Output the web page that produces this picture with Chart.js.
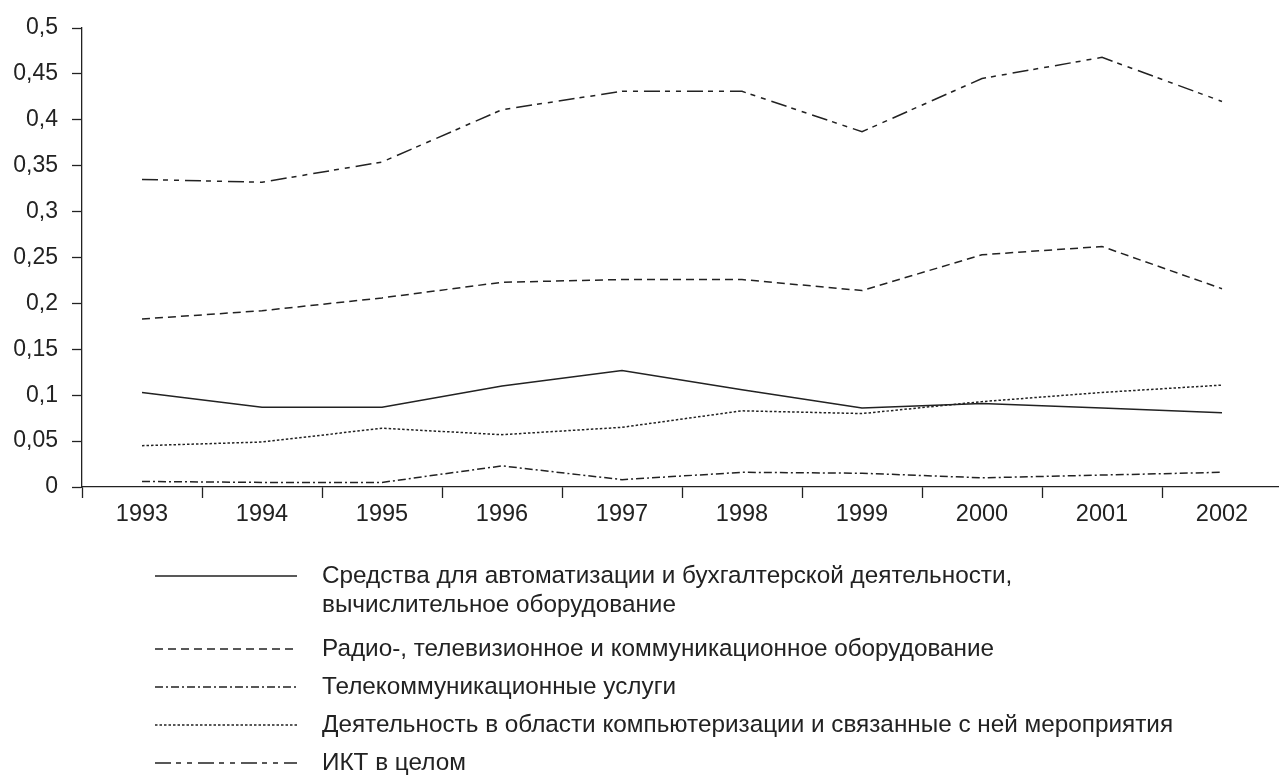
<!DOCTYPE html>
<html lang="ru">
<head>
<meta charset="utf-8">
<title>ИКТ 1993–2002</title>
<script src="https://cdn.jsdelivr.net/npm/chart.js@4.4.1/dist/chart.umd.min.js"></script>
<style>
    html, body { margin: 0; padding: 0; background: #ffffff; overflow: hidden; }
    #wrap { width: 1279px; height: 775px; position: relative; overflow: hidden; }
</style>
</head>
<body>
<div id="wrap"><canvas id="chart" width="1282" height="775"></canvas></div>
<script>
// Data
const years = ["1993", "1994", "1995", "1996", "1997", "1998", "1999", "2000", "2001", "2002"];

const automation = [0.103, 0.087, 0.087, 0.110, 0.127, 0.106, 0.086, 0.091, 0.086, 0.081];
const radioTv    = [0.183, 0.192, 0.206, 0.223, 0.226, 0.226, 0.214, 0.253, 0.262, 0.216];
const telecom    = [0.006, 0.005, 0.005, 0.023, 0.008, 0.016, 0.015, 0.010, 0.013, 0.016];
const computing  = [0.045, 0.049, 0.064, 0.057, 0.065, 0.083, 0.080, 0.093, 0.103, 0.111];
const ictTotal   = [0.335, 0.332, 0.354, 0.411, 0.431, 0.431, 0.387, 0.445, 0.468, 0.420];

const seriesLabels = [
    ["Средства для автоматизации и бухгалтерской деятельности,", "вычислительное оборудование"],
    ["Радио-, телевизионное и коммуникационное оборудование"],
    ["Телекоммуникационные услуги"],
    ["Деятельность в области компьютеризации и связанные с ней мероприятия"],
    ["ИКТ в целом"]
];

const INK = "#222222";
const FONT = "'Liberation Sans', Arial, Helvetica, sans-serif";

function lineSet(label, data, dash) {
    return {
        label: label.join(" "),
        data: data,
        borderColor: INK,
        borderWidth: 1.5,
        borderDash: dash,
        pointRadius: 0,
        tension: 0,
        fill: false
    };
}

// ========== LEGEND (drawn on the canvas under the axis) ==========
const legendPlugin = {
    id: "bottomLegend",
    afterDraw(chart) {
        const ctx = chart.ctx;
        const rows = [576, 649, 687, 725, 763];
        const x0 = 155, x1 = 297, tx = 322;
        ctx.save();
        chart.data.datasets.forEach((ds, i) => {
            const y = rows[i];
            ctx.beginPath();
            ctx.setLineDash(ds.borderDash || []);
            ctx.strokeStyle = ds.borderColor;
            ctx.lineWidth = ds.borderWidth;
            ctx.moveTo(x0, y);
            ctx.lineTo(x1, y);
            ctx.stroke();

            ctx.setLineDash([]);
            ctx.fillStyle = INK;
            ctx.font = "24.3px " + FONT;
            ctx.textBaseline = "middle";
            seriesLabels[i].forEach((line, k) => {
                ctx.fillText(line, tx, y + k * 29);
            });
        });
        ctx.restore();
    }
};

new Chart(document.getElementById("chart"), {
    type: "line",
    data: {
        labels: years,
        datasets: [
            lineSet(seriesLabels[0], automation, []),
            lineSet(seriesLabels[1], radioTv, [8, 5]),
            lineSet(seriesLabels[2], telecom, [8, 3, 2, 3]),
            lineSet(seriesLabels[3], computing, [2.5, 2]),
            lineSet(seriesLabels[4], ictTotal, [16, 5, 5, 6, 5, 6])
        ]
    },
    options: {
        responsive: false,
        animation: false,
        layout: { padding: { top: 28, right: 0, bottom: 0, left: 0 } },
        plugins: {
            legend: { display: false },
            tooltip: { enabled: false }
        },
        scales: {
            x: {
                offset: true,
                grid: {
                    offset: true,
                    drawOnChartArea: false,
                    drawTicks: true,
                    tickLength: 11,
                    tickColor: INK,
                    tickWidth: 1.3
                },
                border: { color: INK, width: 1.3 },
                ticks: {
                    color: INK,
                    padding: 2,
                    maxRotation: 0,
                    font: { family: FONT, size: 23.5 }
                },
                afterFit: (scale) => { scale.height = 288; }
            },
            y: {
                min: 0,
                max: 0.5,
                grid: {
                    drawOnChartArea: false,
                    tickLength: 10,
                    tickColor: INK,
                    tickWidth: 1.3
                },
                border: { color: INK, width: 1.3 },
                ticks: {
                    stepSize: 0.05,
                    color: INK,
                    padding: 14,
                    font: { family: FONT, size: 23 },
                    callback: (v) => String(parseFloat(v.toFixed(2))).replace(".", ",")
                },
                afterFit: (scale) => { scale.width = 82; }
            }
        }
    },
    plugins: [legendPlugin]
});
</script>
</body>
</html>
